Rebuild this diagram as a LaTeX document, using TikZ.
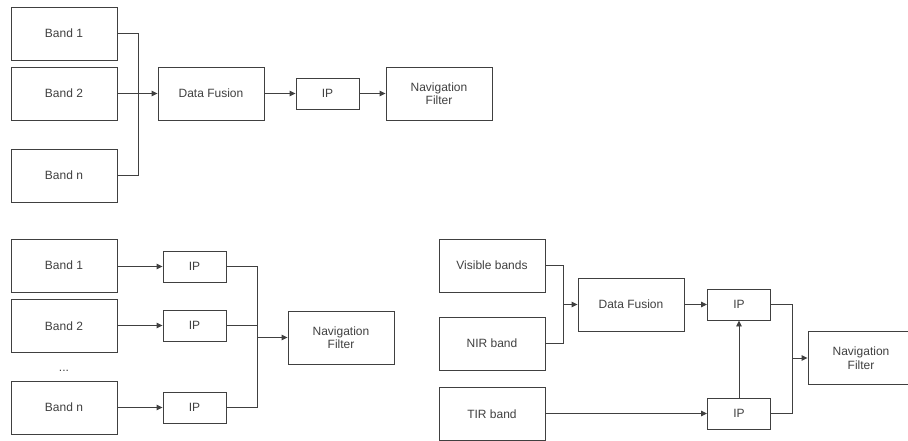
\documentclass[tikz,border=0pt]{standalone}
\usepackage{fontspec}
\setmainfont{Liberation Sans}
\usetikzlibrary{arrows.meta}
\begin{document}
\begin{tikzpicture}[x=1pt,y=-1pt,
  box/.style={draw=black!75, line width=0.9pt, inner sep=0pt, align=center, text=black!75, font=\fontsize{12}{13.5}\selectfont},
  big/.style={box, minimum width=106pt, minimum height=53pt},
  small/.style={box, minimum width=63pt, minimum height=31pt},
  conn/.style={draw=black!75, line width=0.9pt},
  arr/.style={conn, -{Triangle[length=6pt,width=5.5pt]}}]
\useasboundingbox (0,0) rectangle (908,441);
% top
\node[big] (b1) at (64,33.5) {Band 1};
\node[big] (b2) at (64,93.5) {Band 2};
\node[big] (bn) at (64,175.5) {Band n};
\node[big] (df) at (211,93.5) {Data Fusion};
\node[small] (ip) at (327.5,93.5) {IP};
\node[big] (nf) at (439,93.5) {Navigation\\Filter};
\coordinate (j1) at (138,93.5);
\draw[conn] (b1.east) -| (j1);
\draw[conn] (bn.east) -| (j1);
\draw[arr] (b2.east) -- (df.west);
\draw[arr] (df.east) -- (ip.west);
\draw[arr] (ip.east) -- (nf.west);
% bottom left
\node[big] (c1) at (64,265.5) {Band 1};
\node[big] (c2) at (64,326) {Band 2};
\node[text=black!75, font=\fontsize{12}{13.5}\selectfont] (dots) at (64,371) {...};
\node[big] (cn) at (64,407.5) {Band n};
\node[small] (ip1) at (194.5,266.5) {IP};
\node[small] (ip2) at (194.5,325.5) {IP};
\node[small] (ip3) at (194.5,407.5) {IP};
\node[big] (nf2) at (341,337.5) {Navigation\\Filter};
\coordinate (j2) at (257,337.5);
\draw[arr] (c1.east |- ip1.west) -- (ip1.west);
\draw[arr] (c2.east |- ip2.west) -- (ip2.west);
\draw[arr] (cn.east |- ip3.west) -- (ip3.west);
\draw[conn] (ip1.east) -| (j2);
\draw[conn] (ip3.east) -| (j2);
\draw[conn] (ip2.east) -- (ip2.east -| j2);
\draw[arr] (j2) -- (nf2.west);
% bottom right
\node[big] (vb) at (492,265.5) {Visible bands};
\node[big] (nir) at (492,343.5) {NIR band};
\node[big] (tir) at (492,414) {TIR band};
\node[big] (df2) at (631,304.5) {Data Fusion};
\node[small] (ipa) at (739,304.5) {IP};
\node[small] (ipb) at (739,413.5) {IP};
\node[big] (nf3) at (861,358) {Navigation\\Filter};
\coordinate (j3) at (563,304.5);
\coordinate (j4) at (792,358);
\draw[conn] (vb.east) -| (j3);
\draw[conn] (nir.east) -| (j3);
\draw[arr] (j3) -- (df2.west);
\draw[arr] (df2.east) -- (ipa.west);
\draw[arr] (tir.east |- ipb.west) -- (ipb.west);
\draw[arr] (ipb.north) -- (ipa.south);
\draw[conn] (ipa.east) -| (j4);
\draw[conn] (ipb.east) -| (j4);
\draw[arr] (j4) -- (nf3.west);
\end{tikzpicture}
\end{document}
